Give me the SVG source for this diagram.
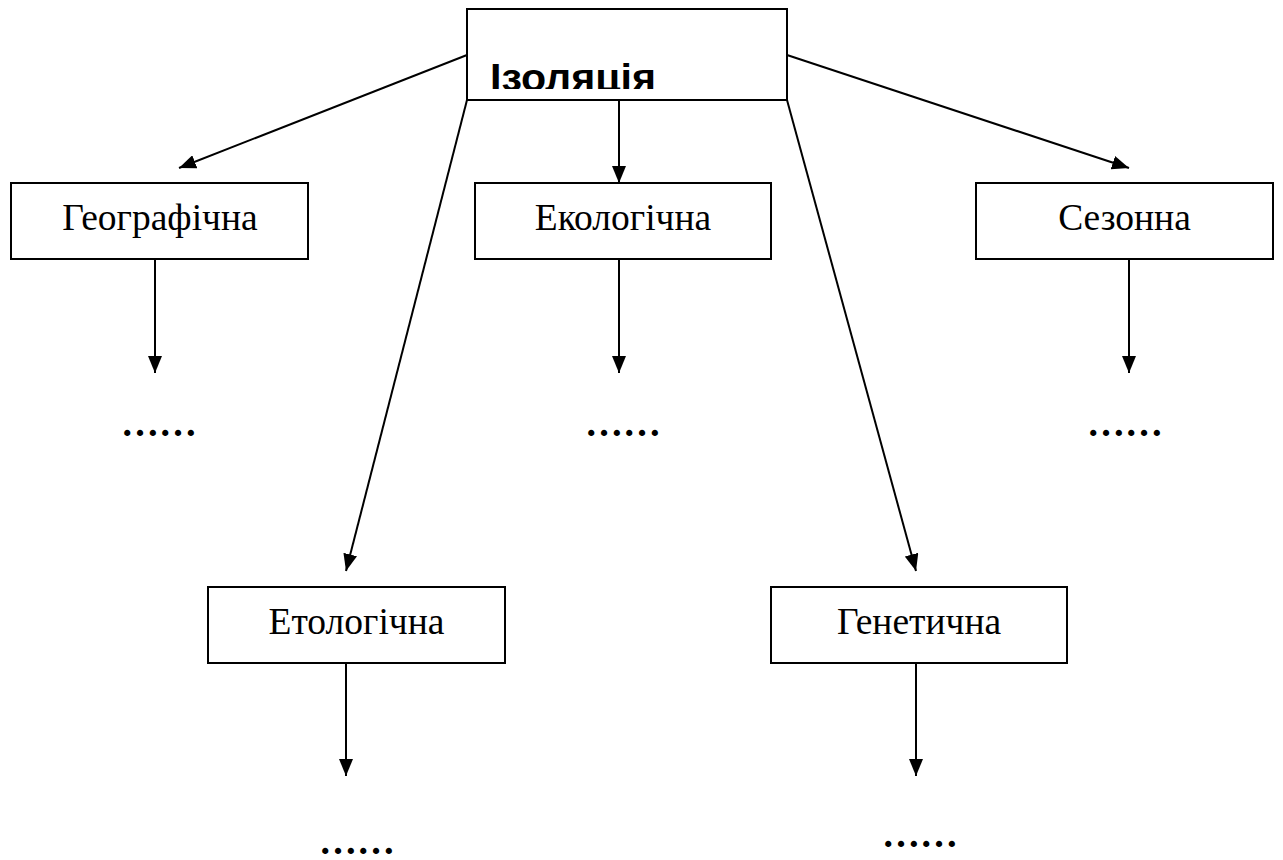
<svg xmlns="http://www.w3.org/2000/svg" width="1283" height="860" viewBox="0 0 1283 860">
  <defs>
    <marker id="arrow" viewBox="0 0 17 14" refX="17" refY="7" markerWidth="17" markerHeight="14" markerUnits="userSpaceOnUse" orient="auto">
      <path d="M0,0 L17,7 L0,14 Z" fill="#000"/>
    </marker>
    <!-- the title's text frame cuts off the bottom of its glyphs -->
    <clipPath id="title-frame">
      <rect x="467" y="9" width="320" height="80"/>
    </clipPath>
    <style>
      .box { fill: #fff; stroke: #000; stroke-width: 2; }
      .lbl { font-family: "Liberation Serif", "Times New Roman", serif; font-size: 37.5px; fill: #000; text-anchor: middle; }
      .title { font-family: "Liberation Sans", Arial, sans-serif; font-size: 39px; font-weight: bold; fill: #000; }
      .dots { font-family: "Liberation Serif", "Times New Roman", serif; font-size: 38px; font-weight: bold; fill: #000; text-anchor: middle; }
      .edge { stroke: #000; stroke-width: 2; fill: none; marker-end: url(#arrow); }
    </style>
  </defs>
  <rect width="1283" height="860" fill="#fff"/>

  <g id="connectors">
    <line class="edge" x1="467" y1="55" x2="179" y2="168"/>
    <line class="edge" x1="787" y1="55" x2="1129" y2="168"/>
    <line class="edge" x1="619" y1="100" x2="619" y2="183"/>
    <line class="edge" x1="467" y1="100" x2="346" y2="571"/>
    <line class="edge" x1="787" y1="100" x2="916" y2="571"/>
    <line class="edge" x1="155" y1="259" x2="155" y2="373"/>
    <line class="edge" x1="619" y1="259" x2="619" y2="373"/>
    <line class="edge" x1="1129" y1="259" x2="1129" y2="373"/>
    <line class="edge" x1="346" y1="663" x2="346" y2="776"/>
    <line class="edge" x1="916" y1="663" x2="916" y2="776"/>
  </g>

  <g id="isolation">
    <rect class="box" x="467" y="9" width="320" height="91"/>
    <text class="title" x="490" y="90.5" textLength="166" lengthAdjust="spacingAndGlyphs" clip-path="url(#title-frame)">Ізоляція</text>
  </g>

  <g id="geographic">
    <rect class="box" x="11" y="183" width="297" height="76"/>
    <text class="lbl" x="160" y="230">Географічна</text>
  </g>

  <g id="ecological">
    <rect class="box" x="475" y="183" width="296" height="76"/>
    <text class="lbl" x="623" y="230">Екологічна</text>
  </g>

  <g id="seasonal">
    <rect class="box" x="976" y="183" width="297" height="76"/>
    <text class="lbl" x="1124.5" y="230">Сезонна</text>
  </g>

  <g id="ethological">
    <rect class="box" x="208" y="587" width="297" height="76"/>
    <text class="lbl" x="356.5" y="634">Етологічна</text>
  </g>

  <g id="genetic">
    <rect class="box" x="771" y="587" width="296" height="76"/>
    <text class="lbl" x="919" y="634">Генетична</text>
  </g>

  <g id="ellipses">
    <text class="dots" x="159" y="436">……</text>
    <text class="dots" x="623" y="436">……</text>
    <text class="dots" x="1125" y="436">……</text>
    <text class="dots" x="357" y="854">……</text>
    <text class="dots" x="920" y="847">……</text>
  </g>
</svg>
